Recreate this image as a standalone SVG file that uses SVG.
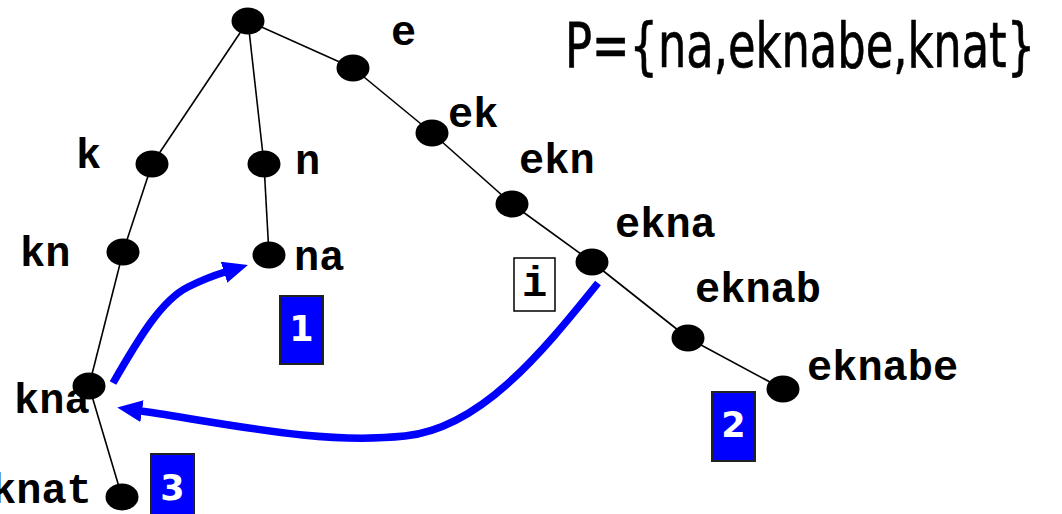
<svg xmlns="http://www.w3.org/2000/svg" width="1062" height="514" viewBox="0 0 1062 514">
<style>
.edge{stroke:#000;stroke-width:1.6;fill:none}
.node{fill:#000}
.lbl{font-family:'Liberation Mono','Courier New',Courier,monospace;font-weight:bold;font-size:42px;fill:#000}
.num{font-family:'DejaVu Sans',Verdana,sans-serif;font-weight:bold;font-size:35px;fill:#fff;text-anchor:middle}
.box{fill:#0000ff;stroke:#222;stroke-width:2}
.arr{stroke:#0000ff;stroke-width:7.5;fill:none}
</style>
<defs>
<marker id="ah" markerUnits="userSpaceOnUse" markerWidth="26" markerHeight="24" refX="1" refY="11" orient="auto">
<path d="M0,0 L25,11 L0,22 z" fill="#0000ff"/>
</marker>
</defs>
<g id="edges">
<line class="edge" x1="248" y1="21" x2="353" y2="68"/>
<line class="edge" x1="248" y1="21" x2="152" y2="164"/>
<line class="edge" x1="248" y1="21" x2="264" y2="164"/>
<line class="edge" x1="353" y1="68" x2="432" y2="133"/>
<line class="edge" x1="432" y1="133" x2="512" y2="204"/>
<line class="edge" x1="512" y1="204" x2="592" y2="262"/>
<line class="edge" x1="592" y1="262" x2="688" y2="338"/>
<line class="edge" x1="688" y1="338" x2="783" y2="389"/>
<line class="edge" x1="152" y1="164" x2="123" y2="252"/>
<line class="edge" x1="123" y1="252" x2="89" y2="386"/>
<line class="edge" x1="89" y1="386" x2="122" y2="497"/>
<line class="edge" x1="264" y1="164" x2="269" y2="255"/>
</g>
<g id="arrows">
<path class="arr" d="M113,383 C140,336 162,300 188,287 C200,281 212,276 225,272" marker-end="url(#ah)"/>
<path class="arr" d="M598,283 C540,355 480,428 405,436 C320,445 230,424 141,411" marker-end="url(#ah)"/>
</g>
<g id="root"><ellipse class="node" cx="248" cy="21" rx="16.5" ry="13.5"/></g>
<g id="n-e"><ellipse class="node" cx="353" cy="68" rx="16.5" ry="13.5"/><text class="lbl" x="391" y="45">e</text></g>
<g id="n-ek"><ellipse class="node" cx="432" cy="133" rx="16.5" ry="13.5"/><text class="lbl" x="448" y="127">ek</text></g>
<g id="n-ekn"><ellipse class="node" cx="512" cy="204" rx="16.5" ry="13.5"/><text class="lbl" x="519" y="173">ekn</text></g>
<g id="n-ekna"><ellipse class="node" cx="592" cy="262" rx="16.5" ry="13.5"/><text class="lbl" x="615" y="237">ekna</text></g>
<g id="n-eknab"><ellipse class="node" cx="688" cy="338" rx="16.5" ry="13.5"/><text class="lbl" x="695" y="302">eknab</text></g>
<g id="n-eknabe"><ellipse class="node" cx="783" cy="389" rx="16.5" ry="13.5"/><text class="lbl" x="807" y="380">eknabe</text></g>
<g id="n-k"><ellipse class="node" cx="152" cy="164" rx="16.5" ry="13.5"/><text class="lbl" x="76" y="168">k</text></g>
<g id="n-n"><ellipse class="node" cx="264" cy="164" rx="16.5" ry="13.5"/><text class="lbl" x="295" y="174">n</text></g>
<g id="n-kn"><ellipse class="node" cx="123" cy="252" rx="16.5" ry="13.5"/><text class="lbl" x="20" y="266">kn</text></g>
<g id="n-na"><ellipse class="node" cx="269" cy="255" rx="16.5" ry="13.5"/><text class="lbl" x="294" y="270">na</text></g>
<g id="n-kna"><ellipse class="node" cx="89" cy="386" rx="16.5" ry="13.5"/><text class="lbl" x="14" y="413">kna</text></g>
<g id="n-knat"><ellipse class="node" cx="122" cy="497" rx="16.5" ry="13.5"/><text class="lbl" x="-9" y="503">knat</text></g>
<g id="box-i"><rect x="514" y="258" width="41" height="53" fill="#fff" stroke="#000" stroke-width="1.5"/><text class="lbl" x="534.5" y="296" text-anchor="middle">i</text></g>
<g id="box-1"><rect class="box" x="280" y="296" width="43" height="68"/><text class="num" x="301.5" y="341">1</text></g>
<g id="box-2"><rect class="box" x="712" y="392" width="43" height="69"/><text class="num" x="733.5" y="437">2</text></g>
<g id="box-3"><rect class="box" x="151" y="454" width="43" height="70"/><text class="num" x="172.5" y="500">3</text></g>
<g id="title"><text transform="translate(565,67) scale(0.722,1)" x="0" y="0" font-family="'DejaVu Sans','Liberation Sans',sans-serif" font-size="62" fill="#000" stroke="#000" stroke-width="0.7">P={na,eknabe,knat}</text></g>
</svg>
